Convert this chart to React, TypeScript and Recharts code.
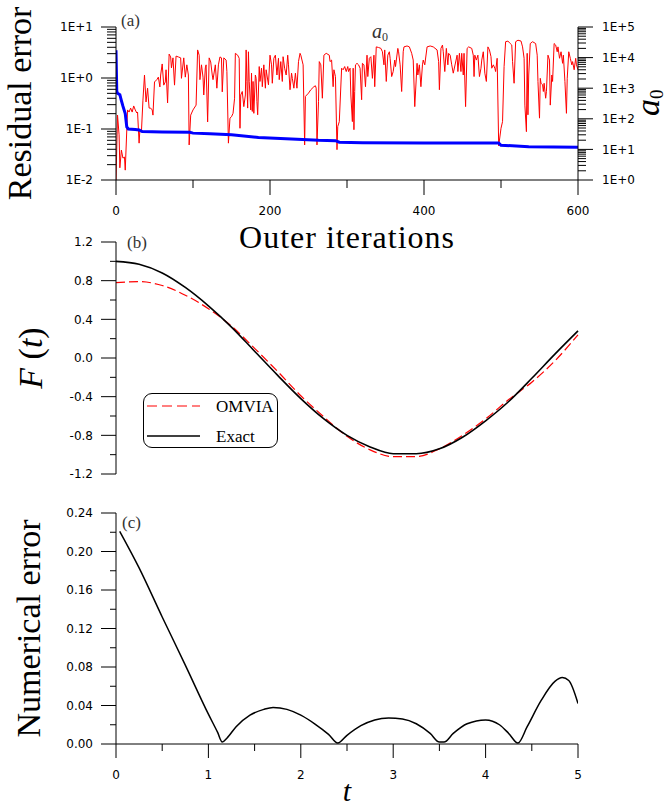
import React from "react";
import { LineChart, Line, XAxis, YAxis, Legend } from "recharts";

// ---------- (a) residual error and a0 vs outer iterations ----------
const residualIter = [0, 1, 2, 5, 7, 9, 12, 14, 16, 25, 30, 34, 60, 96, 100, 122, 150, 185, 228, 263, 285, 290, 320, 400, 497, 500, 536, 600];
const residualError = [3.5, 0.55, 0.5, 0.47, 0.36, 0.28, 0.2, 0.11, 0.1, 0.098, 0.096, 0.089, 0.087, 0.086, 0.083, 0.081, 0.077, 0.068, 0.064, 0.06, 0.059, 0.055, 0.054, 0.053, 0.053, 0.048, 0.045, 0.044];

const a0Iter = [
  0, 2, 4, 5, 7, 9, 11, 12, 15, 17, 19, 21, 23, 25, 27, 28, 30, 31, 33, 35, 37, 39, 41, 43, 45, 47, 48, 50, 53, 55,
  57, 58, 60, 62, 64, 65, 67, 69, 71, 72, 74, 76, 78, 81, 84, 85, 88, 90, 92, 94, 95, 97, 100, 104, 106, 108, 109, 111, 113, 114,
  116, 117, 119, 121, 123, 125, 126, 129, 131, 133, 135, 137, 138, 140, 143,
  144, 146, 148, 150, 152, 154, 155, 158, 160, 161, 162, 164, 166, 168, 169, 170, 171, 172, 173, 175, 176, 177, 178, 179, 181,
  182, 183, 184, 186, 187, 189, 190, 192, 194, 195, 198, 200, 202, 203, 205, 207, 209, 211, 212, 214, 216, 217, 219, 221, 223,
  224, 226, 228, 229, 231, 233, 235, 237, 239, 240, 243, 245, 246, 250, 253, 257, 259, 260, 261, 263, 264, 266, 268, 270, 273,
  277, 278, 280, 282, 283, 285, 287, 288, 290,
  293, 295, 297, 299, 301, 302, 304, 305, 307, 308, 309, 310, 311, 313, 315, 317, 319, 320, 322, 324, 326, 327, 329, 331, 333,
  335, 336, 338, 341, 344, 346, 348, 349, 351, 353, 355, 356, 358, 360, 362, 363, 366, 367, 369, 371, 373, 374, 378, 381, 384,
  386, 388, 391, 392, 394, 396, 398, 399, 401, 404, 408, 412, 417, 419, 420, 422, 424, 425, 427, 429, 431, 432, 434, 436, 438,
  443, 444, 446, 448, 449, 451, 452, 454, 456, 458, 462, 464, 465, 466, 468, 470, 472, 474, 475, 477, 479, 481, 483, 485, 487,
  488, 490, 492, 493, 495, 497, 500, 502, 504, 506, 509, 512, 514, 515, 517, 519, 522, 526, 528, 530, 531, 533, 534, 535, 536,
  538, 541, 545, 547, 548, 550, 551, 552, 554, 555, 556, 558, 559, 561, 563, 564, 566, 567, 569, 571, 573, 574, 576, 578, 580,
  581, 583, 585, 586, 588, 590, 592, 593, 595, 597, 598, 600,
];
const a0Value = [
  1, 132, 30, 2.5, 9.5, 5.2, 5.6, 2.1, 195, 166, 224, 166, 263, 195, 155, 166, 16, 43, 37, 407, 2700, 355, 1000, 224, 224, 195, 132, 1600, 1900, 2300,
  1100, 2700, 6200, 1260, 1600, 4000, 330, 13000, 10500, 4600, 9800, 1260, 11200, 10500, 9800, 2100, 9800, 2300, 5800, 2700, 14, 132, 195, 280, 17800, 12000, 1900, 5800, 2300, 600,
  4600, 5800, 79, 9800, 7200, 2700, 1900, 5800, 1000, 5800, 10500, 9800, 760, 9800, 8300,
  3500, 16, 105, 117, 151, 470, 13800, 12000, 9500, 49, 600, 780, 250, 600, 17800, 1660, 224, 15500, 1660, 195, 3100, 174, 1660, 151, 2700,
  2100, 363, 135, 5100, 1660, 4500, 1120, 5800, 1000, 4000, 1290, 12000, 5800, 1450, 9500, 12000, 2700, 9500, 1900, 7400, 1660, 10700, 4500, 2700, 12000,
  5800, 890, 3100, 2100, 1000, 3100, 1000, 7400, 13800, 12000, 5800, 14, 540, 690, 890, 1120, 1200, 1000, 14, 363, 7400, 5800, 470, 12000, 13800,
  12000, 7400, 8300, 1120, 4000, 2400, 9.8, 56, 81,
  4500, 4000, 5100, 3500, 5100, 3500, 4500, 600, 81, 4500, 44, 780, 5800, 6500, 5800, 4500, 420, 6500, 5800, 1120, 12000, 2400, 9500, 10700, 2100,
  12000, 1120, 22400, 21400, 20000, 15500, 5800, 17800, 1660, 12000, 15500, 9500, 2400, 3500, 8300, 5100, 20000, 15500, 5800, 780, 15500, 22400, 24000, 22400, 13800,
  8300, 250, 6500, 2700, 5800, 1120, 5800, 8300, 5800, 22400, 24000, 22400, 17800, 7400, 890, 20000, 25700, 15500, 3500, 20000, 5800, 13800, 12000, 5800, 3100,
  12000, 3500, 13800, 3500, 13800, 2700, 13800, 250, 20000, 22400, 20000, 12000, 2400, 12000, 8300, 12000, 2400, 4500, 8300, 15500, 3100, 1660, 22400, 17800, 10700,
  4500, 5800, 4500, 3500, 9500, 13, 49, 81, 5100, 33000, 34700, 28800, 25700, 7400, 1450, 33000, 37000, 34700, 22400, 9500, 280, 38, 13800, 135, 2700,
  28800, 33000, 28800, 12000, 1660, 105, 2100, 1450, 1290, 780, 1450, 470, 780, 12000, 8300, 280, 2700, 1660, 28800, 25700, 15500, 22400, 9500, 15500, 6500,
  12000, 1660, 151, 2100, 15500, 9500, 5800, 7400, 4000, 9500, 5800, 4000,
];

const iterTicks = [0, 100, 200, 300, 400, 500, 600];
const iterMajor = [0, 200, 400, 600];
const residualMajor = [0.01, 0.1, 1, 10];
const a0Major = [1, 10, 100, 1000, 10000, 100000];

// ---------- (b) F(t) ----------
const tGrid = [0, 0.25, 0.5, 0.75, 1, 1.25, 1.5, 1.75, 2, 2.25, 2.5, 2.75, 3, 3.25, 3.5, 3.75, 4, 4.25, 4.5, 4.75, 5];
const exactF = [1.0, 0.97, 0.88, 0.73, 0.54, 0.32, 0.07, -0.18, -0.42, -0.63, -0.8, -0.92, -0.99, -0.99, -0.94, -0.82, -0.65, -0.45, -0.21, 0.04, 0.28];
const omviaF = [0.78, 0.79, 0.75, 0.65, 0.51, 0.33, 0.1, -0.14, -0.39, -0.61, -0.81, -0.95, -1.02, -1.02, -0.94, -0.8, -0.63, -0.43, -0.25, -0.03, 0.24];
const legendOrder = ["OMVIA", "Exact"];

const fTicks = [-1.2, -1, -0.8, -0.6, -0.4, -0.2, 0, 0.2, 0.4, 0.6, 0.8, 1, 1.2];
const fMajor = [-1.2, -0.8, -0.4, 0, 0.4, 0.8, 1.2];

// ---------- (c) numerical error ----------
const errT = [0.04, 0.25, 0.5, 0.75, 1, 1.1, 1.15, 1.2, 1.3, 1.45, 1.6, 1.7, 1.85, 2, 2.15, 2.3, 2.4, 2.5, 2.65, 2.8, 2.95, 3.1, 3.25, 3.4, 3.5, 3.55, 3.65, 3.8, 4, 4.15, 4.25, 4.35, 4.45, 4.6, 4.75, 4.83, 4.9, 5];
const errValue = [0.221, 0.183, 0.132, 0.082, 0.031, 0.012, 0.002, 0.006, 0.018, 0.03, 0.036, 0.038, 0.036, 0.03, 0.021, 0.01, 0.001, 0.009, 0.019, 0.025, 0.027, 0.026, 0.021, 0.011, 0.002, 0.002, 0.011, 0.021, 0.025, 0.02, 0.011, 0.001, 0.018, 0.045, 0.065, 0.069, 0.066, 0.042];

const errTicks = [0, 0.02, 0.04, 0.06, 0.08, 0.1, 0.12, 0.14, 0.16, 0.18, 0.2, 0.22, 0.24];
const errMajor = [0, 0.04, 0.08, 0.12, 0.16, 0.2, 0.24];
const tTicks = [0, 0.5, 1, 1.5, 2, 2.5, 3, 3.5, 4, 4.5, 5];
const tMajor = [0, 1, 2, 3, 4, 5];

const residualData = residualIter.map((iter, i) => ({ iter, res: residualError[i] }));
const a0Data = a0Iter.map((iter, i) => ({ iter, a0: a0Value[i] }));
const fData = tGrid.map((t, i) => ({ t, exact: exactF[i], omvia: omviaF[i] }));
const errData = errT.map((t, i) => ({ t, err: errValue[i] }));

const serif = "'Liberation Serif', 'Times New Roman', serif";
const sans = "'DejaVu Sans', sans-serif";
const INK = "#000";

// minor ticks of a log axis: 1..9 times every decade
const logTicks = (major: number[]) =>
  major.flatMap((m, i) => (i === major.length - 1 ? [m] : [1, 2, 3, 4, 5, 6, 7, 8, 9].map((k) => +(k * m).toPrecision(3))));

const isMajor = (list: number[], v: number) => list.some((m) => Math.abs(m - v) <= 1e-9 + 1e-6 * Math.abs(m));

const fmtE = (v: number) => {
  const e = Math.round(Math.log10(v));
  return `1E${e < 0 ? "-" : "+"}${Math.abs(e)}`;
};

const leftTick = (major: number[], fmt: (v: number) => string, minorLen: number) => (props: any) => {
  const { x, y, payload } = props;
  const big = isMajor(major, payload.value);
  return (
    <g>
      <line x1={x} y1={y} x2={x - (big ? 15 : minorLen)} y2={y} stroke={INK} />
      {big && (
        <text x={x - 23} y={y} dy="0.36em" textAnchor="end" fontFamily={sans} fontSize={12} fill={INK}>
          {fmt(payload.value)}
        </text>
      )}
    </g>
  );
};

const rightTick = (major: number[], fmt: (v: number) => string, minorLen: number) => (props: any) => {
  const { x, y, payload } = props;
  const big = isMajor(major, payload.value);
  return (
    <g>
      <line x1={x} y1={y} x2={x + (big ? 15 : minorLen)} y2={y} stroke={INK} />
      {big && (
        <text x={x + 24} y={y} dy="0.36em" textAnchor="start" fontFamily={sans} fontSize={12} fill={INK}>
          {fmt(payload.value)}
        </text>
      )}
    </g>
  );
};

const bottomTick = (major: number[], fmt: (v: number) => string, majorLen: number, minorLen: number) => (props: any) => {
  const { x, y, payload } = props;
  const big = isMajor(major, payload.value);
  return (
    <g>
      <line x1={x} y1={y} x2={x} y2={y + (big ? majorLen : minorLen)} stroke={INK} />
      {big && (
        <text x={x} y={y + 26.5} dy="0.71em" textAnchor="middle" fontFamily={sans} fontSize={12} fill={INK}>
          {fmt(payload.value)}
        </text>
      )}
    </g>
  );
};

const legendStyle: Record<string, { color: string; width: number; dash?: string }> = {
  OMVIA: { color: "#ff0000", width: 1.2, dash: "10 5" },
  Exact: { color: INK, width: 1.6 },
};

const renderLegend = (props: any) => {
  const items = ((props.payload || []) as any[])
    .slice()
    .sort((a, b) => legendOrder.indexOf(a.value) - legendOrder.indexOf(b.value));
  return (
    <div style={{ width: 135, height: 55, boxSizing: "border-box", border: "1px solid #000", borderRadius: 9, background: "#fff" }}>
      <svg width={133} height={53} style={{ display: "block" }}>
        {items.map((it, i) => {
          const s = legendStyle[it.value] || { color: it.color, width: 1 };
          const y = 12 + i * 30;
          return (
            <g key={it.value}>
              <line x1={3} x2={56} y1={y} y2={y} stroke={s.color} strokeWidth={s.width} strokeDasharray={s.dash} />
              <text x={72} y={y} dy="0.35em" fontFamily={serif} fontSize={17} fill={INK}>
                {it.value}
              </text>
            </g>
          );
        })}
      </svg>
    </div>
  );
};

const axisLine = { stroke: INK, strokeWidth: 1 };

export default function App() {
  return (
    <div style={{ position: "absolute", left: 0, top: 0, width: 669, height: 809, background: "#fff", overflow: "hidden" }}>
      {/* (a) */}
      <div style={{ position: "absolute", left: 0, top: 0 }}>
        <LineChart width={669} height={262} margin={{ top: 27, right: 0, bottom: 42, left: 0 }}>
          <XAxis
            type="number"
            dataKey="iter"
            domain={[0, 600]}
            ticks={iterTicks}
            interval={0}
            allowDataOverflow
            height={40}
            tickSize={0}
            tickMargin={0}
            axisLine={axisLine}
            tick={bottomTick(iterMajor, (v) => String(v), 15, 8)}
            label={() => (
              <g>
                <text x={347} y={248} textAnchor="middle" fontFamily={serif} fontSize={32} letterSpacing={1} fill={INK}>
                  Outer iterations
                </text>
                <text x={121} y={26} fontFamily={serif} fontSize={17} fill="#333">
                  (a)
                </text>
                <text x={372} y={38} fontFamily={serif} fontStyle="italic" fontSize={20} fill="#333">
                  a
                  <tspan fontSize={12} fontStyle="normal" dy={3}>
                    0
                  </tspan>
                </text>
              </g>
            )}
          />
          <YAxis
            yAxisId="res"
            scale="log"
            domain={[0.01, 10]}
            ticks={logTicks(residualMajor)}
            interval={0}
            allowDataOverflow
            width={116}
            tickSize={0}
            tickMargin={0}
            axisLine={axisLine}
            tick={leftTick(residualMajor, fmtE, 9)}
            label={() => (
              <text x={31} y={103.5} transform="rotate(-90 31 103.5)" textAnchor="middle" fontFamily={serif} fontSize={34} fill={INK}>
                Residual error
              </text>
            )}
          />
          <YAxis
            yAxisId="a0"
            orientation="right"
            scale="log"
            domain={[1, 100000]}
            ticks={logTicks(a0Major)}
            interval={0}
            allowDataOverflow
            width={91}
            tickSize={0}
            tickMargin={0}
            axisLine={axisLine}
            tick={rightTick(a0Major, fmtE, 8)}
            label={() => (
              <text x={659} y={116} transform="rotate(-90 659 116)" fontFamily={serif} fontStyle="italic" fontSize={34} fill={INK}>
                a
                <tspan fontSize={19} fontStyle="normal" dy={4}>
                  0
                </tspan>
              </text>
            )}
          />
          <Line yAxisId="a0" data={a0Data} dataKey="a0" type="linear" stroke="#ff0000" strokeWidth={1} dot={false} isAnimationActive={false} />
          <Line yAxisId="res" data={residualData} dataKey="res" type="linear" stroke="#0000ff" strokeWidth={3} dot={false} isAnimationActive={false} />
        </LineChart>
      </div>

      {/* (b) */}
      <div style={{ position: "absolute", left: 0, top: 230 }}>
        <LineChart width={669} height={254} data={fData} margin={{ top: 12, right: 91, bottom: 10, left: 0 }}>
          <XAxis type="number" dataKey="t" domain={[0, 5]} hide />
          <YAxis
            domain={[-1.2, 1.2]}
            ticks={fTicks}
            interval={0}
            allowDataOverflow
            width={116}
            tickSize={0}
            tickMargin={0}
            axisLine={axisLine}
            tick={leftTick(fMajor, (v) => v.toFixed(1), 6)}
            label={() => (
              <g>
                <text x={42} y={128} transform="rotate(-90 42 128)" textAnchor="middle" fontFamily={serif} fontSize={34} fill={INK}>
                  <tspan fontStyle="italic">F</tspan> (<tspan fontStyle="italic">t</tspan>)
                </text>
                <text x={127} y={18} fontFamily={serif} fontSize={17} fill="#333">
                  (b)
                </text>
              </g>
            )}
          />
          <Legend layout="vertical" align="center" verticalAlign="middle" wrapperStyle={{ left: 143, top: 163, width: 135, height: 55 }} content={renderLegend} />
          <Line name="OMVIA" dataKey="omvia" type="monotone" stroke="#ff0000" strokeWidth={1.2} strokeDasharray="9 4" dot={false} isAnimationActive={false} />
          <Line name="Exact" dataKey="exact" type="monotone" stroke={INK} strokeWidth={1.6} dot={false} isAnimationActive={false} />
        </LineChart>
      </div>

      {/* (c) */}
      <div style={{ position: "absolute", left: 0, top: 490 }}>
        <LineChart width={669} height={319} data={errData} margin={{ top: 23, right: 91, bottom: 25, left: 0 }}>
          <XAxis
            type="number"
            dataKey="t"
            domain={[0, 5]}
            ticks={tTicks}
            interval={0}
            allowDataOverflow
            height={40}
            tickSize={0}
            tickMargin={0}
            axisLine={axisLine}
            tick={bottomTick(tMajor, (v) => String(v), 14, 7)}
            label={() => (
              <text x={347} y={311} textAnchor="middle" fontFamily={serif} fontStyle="italic" fontSize={30} fill={INK}>
                t
              </text>
            )}
          />
          <YAxis
            domain={[0, 0.24]}
            ticks={errTicks}
            interval={0}
            allowDataOverflow
            width={116}
            tickSize={0}
            tickMargin={0}
            axisLine={axisLine}
            tick={leftTick(errMajor, (v) => v.toFixed(2), 6)}
            label={() => (
              <g>
                <text x={40} y={138.5} transform="rotate(-90 40 138.5)" textAnchor="middle" fontFamily={serif} fontSize={34} fill={INK}>
                  Numerical error
                </text>
                <text x={122} y={38} fontFamily={serif} fontSize={17} fill="#333">
                  (c)
                </text>
              </g>
            )}
          />
          <Line dataKey="err" type="monotone" stroke={INK} strokeWidth={1.5} dot={false} isAnimationActive={false} />
        </LineChart>
      </div>
    </div>
  );
}
